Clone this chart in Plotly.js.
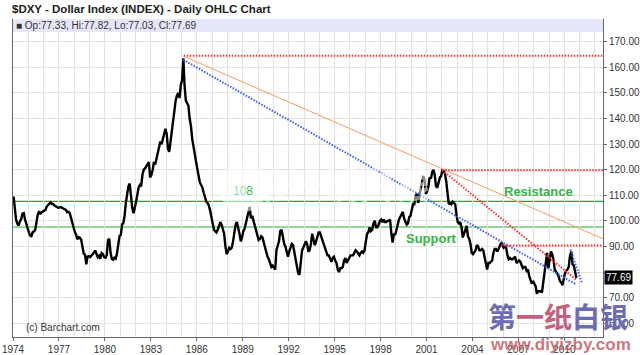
<!DOCTYPE html>
<html>
<head>
<meta charset="utf-8">
<script src="https://cdn.plot.ly/plotly-3.0.1.min.js"></script>
<style>
  html, body { margin: 0; padding: 0; background: #fff; }
  #chart { width: 640px; height: 355px; }
</style>
</head>
<body>
<div id="chart"></div>
<script>
// Monthly closes (approx.), Jan 1974 .. Oct 2010
const startYear = 1974;
const dxy1970s = [
  109.5, 103.5, 100.5, 98.8, 98.2, 99.8, 100.6, 102.8, 103.0, 100.5, 98.6, 97.6,
  95.5, 94.2, 94.0, 95.6, 95.8, 96.5, 99.8, 102.5, 103.8, 102.6, 103.4, 103.8,
  104.0, 104.3, 105.6, 106.2, 106.8, 107.2, 106.6, 106.6, 106.0, 105.7, 105.3, 105.1,
  105.2, 105.4, 105.1, 104.8, 104.6, 104.3, 103.4, 103.5, 103.0, 101.0, 99.6, 97.2,
  95.6, 94.6, 92.8, 93.6, 93.4, 92.6, 89.8, 87.2, 86.8, 83.0, 86.0, 86.2,
  85.8, 86.4, 86.6, 87.6, 88.4, 87.2, 85.8, 86.4, 85.2, 87.4, 87.0, 85.8
];
const dxy1980s = [
  85.6, 86.6, 92.5, 93.0, 87.5, 85.2, 84.8, 85.6, 85.2, 87.2, 90.0, 94.0,
  94.5, 98.6, 99.0, 102.0, 107.0, 110.0, 113.5, 114.6, 108.0, 105.0, 103.0, 105.0,
  107.6, 110.4, 113.0, 114.0, 113.5, 118.0, 120.0, 120.5, 121.5, 122.5, 123.0, 117.0,
  118.0, 120.0, 123.0, 122.0, 124.0, 127.0, 129.0, 131.0, 130.0, 132.0, 134.0, 136.0,
  134.0, 128.0, 127.0, 131.0, 136.0, 138.0, 143.0, 147.0, 149.0, 150.0, 148.0, 153.0,
  155.0, 163.5, 153.0, 147.0, 146.0, 145.0, 140.0, 137.0, 132.0, 128.0, 126.0, 123.0,
  120.0, 117.0, 115.0, 114.0, 113.0, 111.0, 109.0, 107.5, 107.0, 106.0, 104.0, 102.0,
  99.0, 96.5, 96.0, 95.5, 96.5, 98.5, 99.5, 98.5, 96.5, 95.0, 90.0, 87.0,
  88.0, 89.5, 89.0, 89.5, 92.0, 95.0, 98.5, 99.5, 97.5, 95.0, 92.0, 93.5,
  96.0, 97.0, 99.0, 101.0, 104.0, 105.5, 101.0, 102.0, 100.0, 98.0, 96.5, 94.0
];
const dxy1990s = [
  92.5, 93.0, 94.0, 93.5, 91.5, 90.5, 88.0, 86.0, 85.0, 83.0, 82.0, 82.5,
  81.5, 81.0, 88.5, 90.5, 92.0, 96.0, 96.5, 94.0, 91.0, 90.0, 88.0, 86.0,
  88.0, 90.0, 91.0, 90.5, 88.0, 85.5, 82.5, 79.5, 79.0, 83.5, 88.5, 89.5,
  91.0, 92.0, 91.0, 88.0, 88.5, 91.0, 95.0, 93.0, 90.5, 92.0, 94.5, 95.5,
  95.5, 93.5, 92.5, 91.0, 89.5, 88.0, 86.5, 86.5, 85.5, 84.0, 85.5, 86.0,
  84.5, 83.5, 81.0, 80.0, 81.5, 81.5, 82.0, 84.5, 85.5, 83.5, 84.5, 85.5,
  86.5, 86.5, 86.5, 87.5, 88.5, 88.0, 87.0, 86.5, 87.5, 88.0, 87.5, 88.5,
  92.0, 95.0, 95.5, 97.5, 96.0, 96.5, 99.0, 100.0, 97.5, 97.5, 98.5, 100.0,
  100.5, 99.5, 100.5, 99.5, 99.5, 100.0, 100.0, 100.5, 95.0, 91.5, 95.0, 94.5,
  96.5, 99.5, 100.5, 101.5, 102.5, 103.5, 101.0, 100.0, 98.5, 99.0, 101.5, 102.0
];
const dxy2000s = [
  104.0, 106.5, 106.5, 110.0, 110.5, 107.0, 110.0, 112.5, 115.5, 117.5, 116.0, 110.5,
  111.5, 113.5, 117.0, 116.5, 119.0, 120.0, 118.0, 113.5, 113.0, 115.5, 117.0, 117.5,
  120.0, 119.5, 118.5, 115.5, 111.0, 106.5, 107.0, 106.5, 107.5, 107.0, 106.5, 102.5,
  99.5, 99.0, 99.5, 97.5, 93.5, 95.0, 97.0, 98.0, 94.0, 93.0, 91.0, 87.5,
  87.0, 88.0, 88.5, 90.5, 90.0, 88.5, 88.5, 89.0, 88.5, 86.0, 83.0, 81.0,
  83.5, 83.5, 84.0, 84.5, 87.5, 89.0, 89.0, 88.0, 89.0, 90.0, 91.5, 90.5,
  89.5, 90.0, 89.5, 86.5, 85.0, 85.5, 85.0, 85.0, 85.5, 86.0, 83.5, 84.0,
  84.5, 84.0, 83.0, 81.5, 82.0, 82.0, 80.5, 81.0, 78.5, 77.0, 75.5, 76.5,
  75.5, 74.5, 71.5, 72.5, 72.5, 72.5, 72.0, 76.5, 79.0, 84.0, 87.5, 81.5,
  85.0, 88.0, 87.0, 85.0, 81.0, 80.0, 79.0, 78.5, 76.5, 76.0, 74.8, 77.5
];
const dxy2010s = [79.5, 80.5, 81.0, 82.0, 86.5, 88.0, 83.0, 82.5, 79.5, 77.69];

const yearTicks = ['1974','1977','1980','1983','1986','1989','1992','1995','1998','2001','2004','2007','2010'];
const priceTicks = [60, 70, 80, 90, 100, 110, 120, 130, 140, 150, 160, 170];
const lastClose = 77.69;
const infoText = 'Op:77.33, Hi:77.82, Lo:77.03, Cl:77.69';

// Trend / level lines
const orangeX = ['1985-02-25', '2012-07-10'];  const orangeY = [164.3, 93.0];
const blueX   = ['1985-02-10', '2010-09-25'];  const blueY   = [163.0, 75.3];
const blue2X  = ['2010-05-25', '2011-03-01'];  const blue2Y  = [88.8, 75.5];
const redDiagX = ['2002-01-10', '2010-10-10']; const redDiagY = [119.8, 77.0];
const redLevelStarts = ['1985-02-25', '2002-01-10', '2005-11-10'];
const redLevels = [164.5, 119.8, 90.4];
const greenLevels = [107.6, 97.6];

const xEnd = '2012-07-10';
const closes = [].concat(dxy1970s, dxy1980s, dxy1990s, dxy2000s, dxy2010s);
const dates = closes.map((_, i) => {
  const y = startYear + Math.floor(i / 12);
  const m = (i % 12) + 1;
  return y + '-' + (m < 10 ? '0' + m : m) + '-15';
});

const dotted = '1.5px,1.5px';
const traces = [
  { x: dates, y: closes, type: 'scatter', mode: 'lines',
    line: { color: '#000000', width: 2.4 }, hoverinfo: 'skip' },
  { x: orangeX, y: orangeY, type: 'scatter', mode: 'lines',
    line: { color: '#fb9a5c', width: 1 }, hoverinfo: 'skip' },
  { x: blueX, y: blueY, type: 'scatter', mode: 'lines',
    line: { color: '#3a5cff', width: 2, dash: dotted }, hoverinfo: 'skip' },
  { x: blue2X, y: blue2Y, type: 'scatter', mode: 'lines',
    line: { color: '#3a5cff', width: 2, dash: dotted }, hoverinfo: 'skip' },
  { x: redDiagX, y: redDiagY, type: 'scatter', mode: 'lines',
    line: { color: '#ff3030', width: 2, dash: dotted }, hoverinfo: 'skip' }
];
redLevels.forEach((lv, i) => {
  traces.push({ x: [redLevelStarts[i], xEnd], y: [lv, lv], type: 'scatter', mode: 'lines',
    line: { color: '#ff3030', width: 2, dash: dotted }, hoverinfo: 'skip' });
});

const shapes = [
  { type: 'line', xref: 'paper', x0: 0, x1: 1, yref: 'y', y0: greenLevels[0], y1: greenLevels[0],
    line: { color: '#22a83a', width: 1.2 }, layer: 'below' },
  { type: 'line', xref: 'paper', x0: 0, x1: 1, yref: 'y', y0: greenLevels[1], y1: greenLevels[1],
    line: { color: '#8fd69a', width: 2 }, layer: 'below' },
  // lavender info band at top of plot
  { type: 'rect', xref: 'paper', x0: 0, x1: 1, yref: 'paper', ysizemode: 'pixel', yanchor: 1,
    y0: -13, y1: 0, fillcolor: '#e6e6fa', line: { width: 0 }, layer: 'above' },
  // faint logo circle
  { type: 'circle', xref: 'paper', yref: 'paper', xsizemode: 'pixel', ysizemode: 'pixel',
    xanchor: (243 - 13) / 590, yanchor: (336.7 - 188) / 317.7,
    x0: -24, x1: 24, y0: -24, y1: 24, fillcolor: 'rgba(255,255,255,0.55)', line: { width: 0 }, layer: 'above' }
];

const tickText = priceTicks.map(v => v === 80 ? '' : v.toFixed(2));
const fontFam = 'Arial, "Liberation Sans", sans-serif';

const annotations = [
  { xref: 'paper', yref: 'paper', x: 0.002, y: 1 - 6.5 / 317.7, xanchor: 'left', yanchor: 'middle',
    text: '■ ' + infoText, showarrow: false, font: { family: fontFam, size: 10, color: '#333' } },
  { xref: 'paper', yref: 'paper', x: 0.555, y: 0.485, xanchor: 'center', yanchor: 'middle',
    text: '<b>第一纸白银</b>', showarrow: false,
    font: { family: '"Noto Sans CJK SC", sans-serif', size: 36, color: 'rgba(255,255,255,0.55)' } },
  { xref: 'x', yref: 'y', x: '1989-01-10', y: 111.6, xanchor: 'center', yanchor: 'middle',
    text: '<span style="color:#a3dcab">10</span><span style="color:#3fb152">8</span>', showarrow: false,
    font: { family: fontFam, size: 12, color: '#3fb152' } },
  { xref: 'x', yref: 'y', x: '2008-04-20', y: 111.6, xanchor: 'center', yanchor: 'middle',
    text: '<b>Resistance</b>', showarrow: false, font: { family: fontFam, size: 13, color: '#35b34a' } },
  { xref: 'x', yref: 'y', x: '2001-04-15', y: 93.2, xanchor: 'center', yanchor: 'middle',
    text: '<b>Support</b>', showarrow: false, font: { family: fontFam, size: 13, color: '#35b34a' } },
  { xref: 'paper', yref: 'y', x: 1, y: lastClose, xanchor: 'left', yanchor: 'middle', xshift: 1,
    text: lastClose.toFixed(2), showarrow: false, bgcolor: '#000', borderpad: 1,
    font: { family: fontFam, size: 10, color: '#fff' } },
  { xref: 'paper', yref: 'paper', x: (24 - 13) / 590, y: (336.7 - 327) / 317.7, xanchor: 'left', yanchor: 'middle',
    text: '(c) Barchart.com', showarrow: false, font: { family: fontFam, size: 10, color: '#333' } },
  { xref: 'paper', yref: 'paper', x: (558 - 13) / 590, y: (336.7 - 316) / 317.7, xanchor: 'center', yanchor: 'middle',
    text: '<span style="color:#6c6cb4">第</span><span style="color:#c4607a">一纸</span><span style="color:#6c6cb4">白银</span>',
    showarrow: false, font: { family: '"Noto Sans CJK SC", sans-serif', size: 28, weight: 'bold', color: '#6c6cb4' } },
  { xref: 'paper', yref: 'paper', x: (560 - 13) / 590, y: (336.7 - 344) / 317.7, xanchor: 'center', yanchor: 'middle',
    text: '<b>www.diyizby.com</b>', showarrow: false,
    font: { family: fontFam, size: 17, color: 'rgba(200,100,105,0.9)' } }
];

const layout = {
  width: 640, height: 355,
  margin: { l: 13, r: 37, t: 19, b: 18, pad: 0 },
  paper_bgcolor: '#ffffff', plot_bgcolor: '#ffffff',
  showlegend: false,
  title: { text: '<b>$DXY - Dollar Index (INDEX) - Daily OHLC Chart</b>',
    xref: 'container', x: 12 / 640, xanchor: 'left',
    yref: 'container', y: 1 - 8.5 / 355, yanchor: 'middle',
    font: { family: fontFam, size: 11.5, color: '#222' } },
  xaxis: {
    type: 'date', range: ['1974-01-01', xEnd],
    tickmode: 'array', tickvals: yearTicks.map(y => y + '-01-01'), ticktext: yearTicks,
    ticks: 'outside', ticklen: 3, tickcolor: '#666',
    showgrid: true, gridcolor: '#e2e2e2', gridwidth: 1,
    minor: { dtick: 'M12', tick0: '1974-01-01', showgrid: true, gridcolor: '#e2e2e2', gridwidth: 1, ticks: '' },
    showline: true, linecolor: '#666', linewidth: 1, zeroline: false,
    tickfont: { family: fontFam, size: 10, color: '#333' }, fixedrange: true
  },
  yaxis: {
    side: 'right', range: [54.6, 178.9],
    tickmode: 'array', tickvals: priceTicks, ticktext: tickText,
    ticks: 'outside', ticklen: 3, tickcolor: '#666',
    showgrid: true, gridcolor: '#e2e2e2', gridwidth: 1,
    showline: true, mirror: true, linecolor: '#666', linewidth: 1, zeroline: false,
    tickfont: { family: fontFam, size: 10, color: '#333' }, fixedrange: true
  },
  shapes: shapes,
  annotations: annotations
};

Plotly.newPlot('chart', traces, layout, { staticPlot: true, displayModeBar: false });
</script>
</body>
</html>
